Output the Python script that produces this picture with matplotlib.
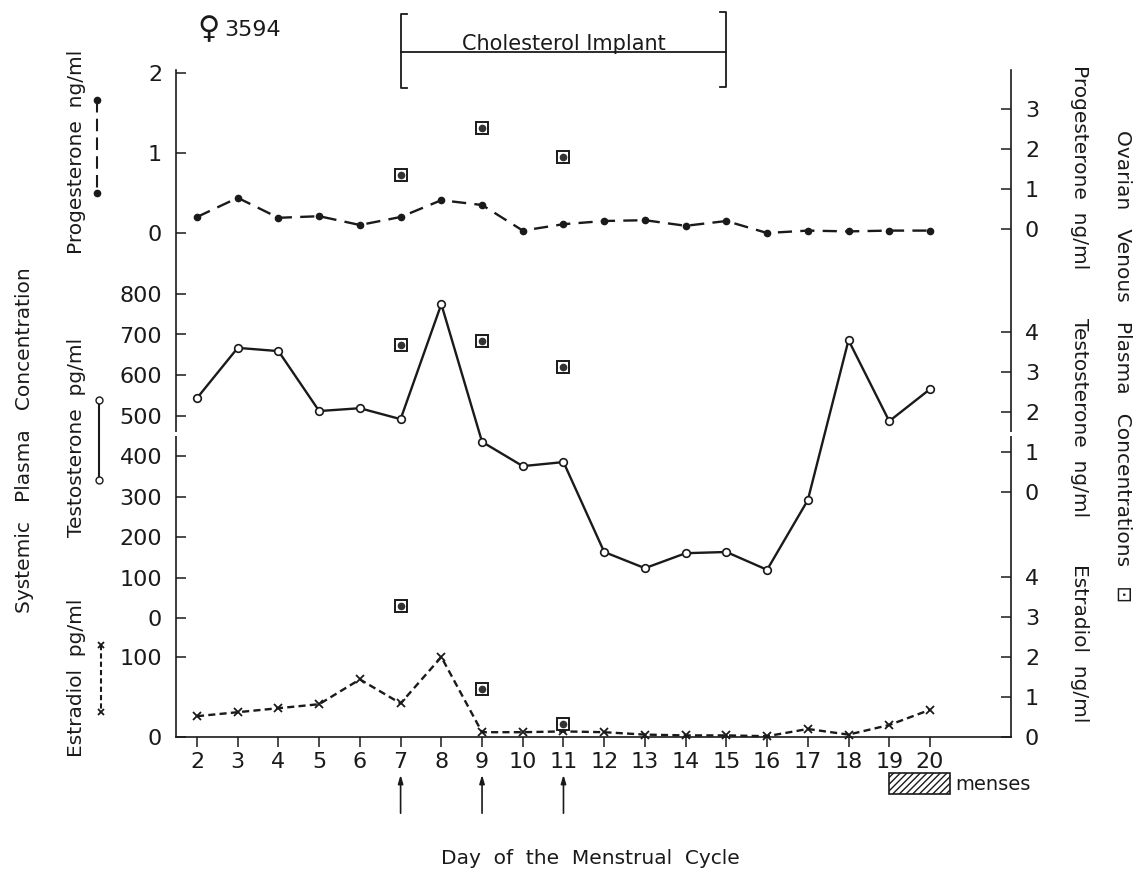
import numpy as np
import matplotlib.pyplot as plt
from matplotlib.lines import Line2D
from matplotlib.patches import Rectangle

# systemic plasma values, days 2..20
days = np.arange(2, 21)
prog_sys = [0.20, 0.44, 0.19, 0.21, 0.10, 0.20, 0.41, 0.35, 0.03, 0.11,
            0.15, 0.16, 0.09, 0.15, 0.00, 0.03, 0.02, 0.03, 0.03]
testo_sys = [543, 667, 659, 511, 518, 491, 775, 435, 375, 385,
             163, 123, 160, 163, 119, 291, 686, 486, 565]
estra_sys = [26, 31, 36, 41, 72, 42, 100, 6, 6, 7,
             6, 3, 2, 2, 1, 10, 3, 15, 34]

# ovarian venous values (ng/ml)
ov_days = [7, 9, 11]
prog_ov = [1.35, 2.52, 1.80]
testo_ov = [3.68, 3.78, 3.13]
estra_ov = [3.28, 1.20, 0.33]

implant = (7, 15)
menses = (19, 20.5)
arrow_days = [7, 9, 11]

plt.rcParams['font.family'] = ['DejaVu Sans']
ink = '#1a1a1a'

W, H = 1144, 888
fig = plt.figure(figsize=(W / 100, H / 100), dpi=100)
# plot frame in pixels: left 176, right 1011, top 70, bottom 737
TOP, BOT = 70, 737
rect = [176 / W, (H - BOT) / H, (1011 - 176) / W, (BOT - TOP) / H]
ax = fig.add_axes(rect)
ax.set_xlim(2 - 21 / 40.72, 2 + 814 / 40.72)
ax.set_ylim(0, 1)
ax.set_yticks([])
ax.set_xticks(days)
ax.tick_params(axis='x', direction='out', length=7, width=1.1, labelsize=16, pad=4, colors=ink)
ax.spines['top'].set_visible(False)
for s in ['left', 'right', 'bottom']:
    ax.spines[s].set_linewidth(1.2)
    ax.spines[s].set_color(ink)
# axis breaks
for xf in (0, 1):
    ax.plot([xf, xf], [0.451, 0.458], color='white', lw=4, transform=ax.transAxes,
            clip_on=False, zorder=5, solid_capstyle='butt')


def layer(zero_px, px_per_unit, side, ticks, pad):
    a = fig.add_axes(rect, sharex=ax)
    a.patch.set_visible(False)
    for s in a.spines.values():
        s.set_visible(False)
    a.set_ylim((zero_px - BOT) / px_per_unit, (zero_px - TOP) / px_per_unit)
    a.yaxis.set_ticks_position(side)
    a.yaxis.set_label_position(side)
    a.set_yticks(ticks)
    a.tick_params(axis='y', direction='in', length=7, width=1.1, labelsize=16, pad=pad, colors=ink)
    a.tick_params(axis='x', bottom=False, labelbottom=False)
    return a


ax_p = layer(233, 80, 'left', [0, 1, 2], 10)
ax_t = layer(618, 0.405, 'left', range(0, 801, 100), 10)
ax_e = layer(737, 0.8, 'left', [0, 100], 10)
ax_po = layer(229, 40, 'right', [0, 1, 2, 3], 10)
ax_to = layer(492, 40, 'right', [0, 1, 2, 3, 4], 10)
ax_eo = layer(737, 40, 'right', [0, 1, 2, 3, 4], 10)

ax_p.plot(days, prog_sys, color=ink, lw=1.7, dashes=(6, 3.5), marker='o', ms=4.5,
          mfc=ink, mec=ink, clip_on=False)
ax_t.plot(days, testo_sys, color=ink, lw=1.7, marker='o', ms=5.5, mfc='white',
          mec=ink, mew=1.2, clip_on=False)
ax_e.plot(days, estra_sys, color=ink, lw=1.7, dashes=(3, 1.8), marker='x', ms=5.5,
          mec=ink, mew=1.3, clip_on=False)

for a, vals in [(ax_po, prog_ov), (ax_to, testo_ov), (ax_eo, estra_ov)]:
    a.plot(ov_days, vals, ls='none', marker='s', ms=8.5, mfc='white', mec=ink, mew=1.4, zorder=6)
    a.plot(ov_days, vals, ls='none', marker='o', ms=4.5, mfc='#333333', mec='#333333', zorder=7)

# legend keys beside the left labels
def key(x, y0, y1, **kw):
    fig.add_artist(Line2D([x / W, x / W], [1 - y0 / H, 1 - y1 / H],
                          transform=fig.transFigure, color=ink, lw=1.5, **kw))

key(97, 100, 193, dashes=(6, 3), marker='o', ms=4.5, mfc=ink, mec=ink, markevery=[0, 1])
key(99, 400, 480, marker='o', ms=5, mfc='white', mec=ink, markevery=[0, 1])
key(101, 645, 712, dashes=(2.5, 1.5), marker='x', ms=5, mec=ink, mew=1.3, markevery=[0, 1])

# labels
lab = dict(fontsize=14.5, color=ink, ha='center', va='center')
fig.text(77 / W, 1 - 152 / H, 'Progesterone  ng/ml', rotation=90, **lab)
fig.text(77 / W, 1 - 437 / H, 'Testosterone  pg/ml', rotation=90, **lab)
fig.text(77 / W, 1 - 678 / H, 'Estradiol  pg/ml', rotation=90, **lab)
fig.text(25 / W, 1 - 440 / H, 'Systemic   Plasma   Concentration', rotation=90, **lab)
fig.text(1080 / W, 1 - 167 / H, 'Progesterone  ng/ml', rotation=-90, **lab)
fig.text(1080 / W, 1 - 418 / H, 'Testosterone  ng/ml', rotation=-90, **lab)
fig.text(1080 / W, 1 - 643 / H, 'Estradiol  ng/ml', rotation=-90, **lab)
fig.text(1123 / W, 1 - 366 / H, 'Ovarian   Venous   Plasma   Concentrations   \u22a1',
         rotation=-90, **lab)
fig.text(590 / W, 1 - 858 / H, 'Day  of  the  Menstrual  Cycle', **lab)
fig.text(197 / W, 1 - 30 / H, '\u2640', fontsize=22, color=ink, ha='left', va='center')
fig.text(224 / W, 1 - 30 / H, '3594', fontsize=16, color=ink, ha='left', va='center')

# cholesterol implant bracket
def yf(px):
    return (BOT - px) / (BOT - TOP)

bt = ax.get_xaxis_transform()
x0, x1 = implant
ax.plot([x0 + 0.15, x0, x0, x0 + 0.15], [yf(14), yf(14), yf(88), yf(88)], color=ink, lw=1.3,
        transform=bt, clip_on=False)
ax.plot([x1 - 0.15, x1, x1, x1 - 0.15], [yf(12), yf(12), yf(87), yf(87)], color=ink, lw=1.3,
        transform=bt, clip_on=False)
ax.plot([x0, x1], [yf(52), yf(52)], color=ink, lw=1.3, transform=bt, clip_on=False)
ax.text((x0 + x1) / 2, yf(50), 'Cholesterol Implant', transform=bt, ha='center', va='baseline',
        fontsize=15, color=ink)

# arrows under days of implant sampling
for d in arrow_days:
    ax.annotate('', xy=(d, yf(772)), xytext=(d, yf(816)), xycoords=bt, textcoords=bt,
                arrowprops=dict(arrowstyle='-|>,head_length=0.5,head_width=0.15', color=ink, lw=1.2))

# menses box
ax.add_patch(Rectangle((menses[0], yf(794)), menses[1] - menses[0], yf(773) - yf(794),
                       transform=bt, clip_on=False, facecolor='white', edgecolor=ink,
                       hatch='/////', lw=1.2))
ax.text(menses[1] + 0.12, yf(784), 'menses', transform=bt, ha='left', va='center',
        fontsize=14, color=ink)

fig.savefig('out.png', dpi=100)
